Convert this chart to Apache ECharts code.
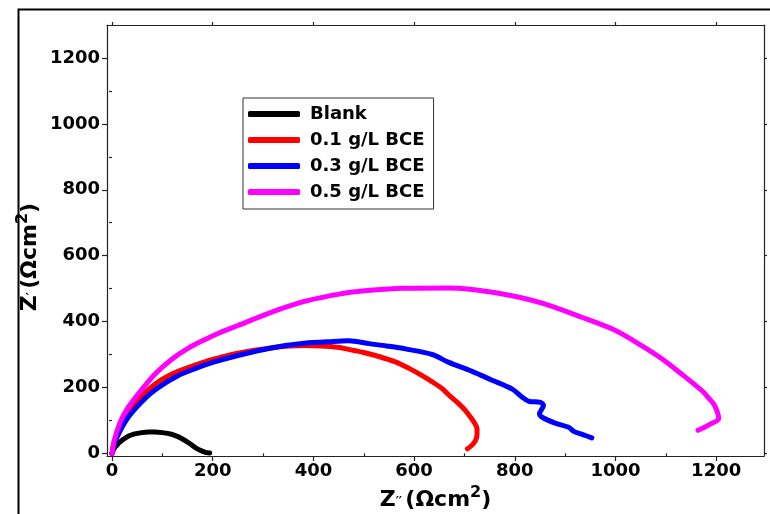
<!DOCTYPE html>
<html>
<head>
<meta charset="utf-8">
<title>Nyquist plot</title>
<script src="https://cdn.jsdelivr.net/npm/echarts@6/dist/echarts.min.js"></script>
<style>
  html, body { margin: 0; padding: 0; background: #fff; }
  #chart { width: 770px; height: 514px; }
</style>
</head>
<body>
<div id="chart"></div>
<script>
// series names
var seriesNames = ["Blank", "0.1 g/L BCE", "0.3 g/L BCE", "0.5 g/L BCE"];

// [Z'', Z'] pairs
var blankData = [[0,0],[4,14],[12,29],[22,42],[32,52],[45,59],[59,63],[72,65],[85,65],[100,63],[118,58],[132,50],[145,39],[155,29],[164,19],[174,10],[184,4],[194,1]];
var bce01Data = [[0,0],[5,40],[15,80],[30,122],[50,160],[75,197],[100,225],[130,248],[165,268],[200,285],[250,304],[316,320],[382,327],[415,326],[448,322],[481,312],[498,307],[530,294],[564,277],[590,258],[616,236],[636,217],[656,196],[672,173],[689,150],[702,130],[712,110],[720,92],[725,75],[725,57],[722,39],[715,25],[706,14]];
var bce03Data = [[0,0],[5,30],[15,65],[30,105],[50,142],[75,180],[100,208],[130,235],[165,257],[200,276],[250,297],[316,320],[382,334],[448,340],[470,342],[511,333],[545,326],[583,317],[636,300],[669,276],[715,249],[755,222],[795,195],[815,170],[828,158],[851,155],[857,146],[849,120],[856,108],[880,92],[907,79],[918,66],[935,57],[953,47]];
var bce05Data = [[0,0],[5,42],[15,90],[30,135],[52,180],[85,240],[118,285],[150,318],[184,345],[215,367],[250,388],[316,428],[382,461],[432,478],[478,490],[577,501],[669,502],[768,486],[854,456],[933,413],[1000,373],[1052,327],[1092,287],[1131,241],[1171,191],[1185,168],[1197,145],[1205,105],[1190,90],[1175,78],[1164,70]];

// tick positions
var majorTicks = [0, 200, 400, 600, 800, 1000, 1200];
var minorTicks = [100, 300, 500, 700, 900, 1100];

var colors = ["#000000", "#ff0000", "#0000ff", "#ff00ff"];
var font = "DejaVu Sans";
var axisColor = "#222";

var chart = echarts.init(document.getElementById("chart"));

function mkAxis(pos, extra) {
  var isX = pos === "bottom" || pos === "top";
  var base = {
    type: "value",
    position: pos,
    min: isX ? -10 : -8,
    max: isX ? 1295 : 1300,
    splitLine: { show: false },
    axisLine: { show: true, onZero: false, lineStyle: { color: axisColor, width: 1.2 } },
    axisTick: { show: true, inside: false, length: 5, customValues: majorTicks, lineStyle: { color: axisColor, width: 1.2 } },
    axisLabel: { show: false }
  };
  return Object.assign(base, extra || {});
}

var tickLabel = {
  show: true,
  customValues: majorTicks,
  fontFamily: font,
  fontWeight: "bold",
  fontSize: 18,
  color: "#000",
  formatter: function (v) { return String(v); }
};

var nameRich = {
  z: { fontFamily: font, fontWeight: "bold", fontSize: 22, lineHeight: 30, color: "#000" },
  p: { fontFamily: font, fontWeight: "bold", fontSize: 12, lineHeight: 12, color: "#000", verticalAlign: "bottom", padding: [0, 0, 7, 0] },
  t: { fontFamily: font, fontWeight: "bold", fontSize: 22, lineHeight: 30, color: "#000" },
  s: { fontFamily: font, fontWeight: "bold", fontSize: 16, lineHeight: 16, color: "#000", verticalAlign: "top" }
};

var option = {
  animation: false,
  backgroundColor: "#fff",
  grid: { left: 107, right: 6, top: 25, bottom: 58, containLabel: false, outerBoundsMode: "none" },
  legend: {
    data: seriesNames,
    orient: "vertical",
    left: 243,
    top: 98,
    itemWidth: 52,
    itemHeight: 6,
    itemGap: 6,
    icon: "roundRect",
    padding: [6, 9, 7, 5],
    borderColor: "#333",
    borderWidth: 1,
    textStyle: { fontFamily: font, fontWeight: "bold", fontSize: 18, color: "#000", lineHeight: 20, padding: [0, 0, 0, 5] }
  },
  xAxis: [
    mkAxis("bottom", {
      name: "{z|Z}{p|′′} {t|(Ωcm}{s|2}{t|)}",
      nameLocation: "middle",
      nameGap: 26,
      nameTextStyle: { rich: nameRich },
      axisLabel: Object.assign({ margin: 6 }, tickLabel)
    }),
    mkAxis("bottom", { axisLine: { show: false }, axisTick: { show: true, length: 3, customValues: minorTicks, lineStyle: { color: axisColor, width: 1.2 } } }),
    mkAxis("top", { axisTick: { show: true, length: 3, customValues: majorTicks, lineStyle: { color: axisColor, width: 1.2 } } })
  ],
  yAxis: [
    mkAxis("left", { axisLabel: Object.assign({ margin: 7 }, tickLabel) }),
    mkAxis("left", { axisLine: { show: false }, axisTick: { show: true, length: 3, customValues: minorTicks, lineStyle: { color: axisColor, width: 1.2 } } }),
    mkAxis("right", { axisTick: { show: true, length: 3, customValues: majorTicks, lineStyle: { color: axisColor, width: 1.2 } } })
  ],
  graphic: [{
    type: "rect",
    left: 16, top: 7,
    shape: { x: 0, y: 0, width: 800, height: 600 },
    style: { fill: null, stroke: "#000", lineWidth: 2 },
    silent: true
  }, {
    type: "text",
    x: 30, y: 257,
    rotation: Math.PI / 2,
    style: {
      text: "{z|Z}{p|′} {t|(Ωcm}{s|2}{t|)}",
      rich: nameRich,
      align: "center",
      verticalAlign: "middle"
    },
    silent: true
  }],
  series: [blankData, bce01Data, bce03Data, bce05Data].map(function (d, i) {
    return {
      name: seriesNames[i],
      type: "line",
      data: d,
      xAxisIndex: 0,
      yAxisIndex: 0,
      showSymbol: false,
      symbol: "none",
      smooth: 0.3,
      color: colors[i],
      lineStyle: { color: colors[i], width: 5, cap: "round", join: "round" }
    };
  })
};

chart.setOption(option);
</script>
</body>
</html>
